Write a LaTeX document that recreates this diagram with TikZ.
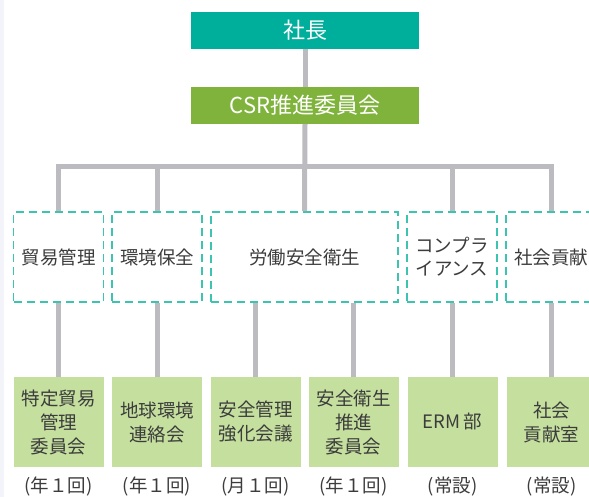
\documentclass[tikz,border=0pt]{standalone}
\usepackage{fontspec}
\setmainfont{Noto Sans CJK JP}
\definecolor{topteal}{HTML}{00AF9B}
\definecolor{csrgreen}{HTML}{7FB33B}
\definecolor{lightgreen}{HTML}{C5DF9F}
\definecolor{dashteal}{HTML}{3CC4B0}
\definecolor{linegray}{HTML}{BCBCC0}
\definecolor{txt}{HTML}{3C3C3C}
\definecolor{edgestrip}{HTML}{F2F4F9}
\begin{document}
\begin{tikzpicture}[x=1pt,y=-1pt,
  topbox/.style={fill=#1,draw=none,minimum width=228pt,minimum height=37pt,inner sep=0pt,text=white,font=\fontsize{22}{26}\selectfont},
  deptbox/.style={draw=dashteal,line width=1.6pt,dash pattern=on 8pt off 5pt,fill=white,minimum height=90pt,inner sep=0pt,align=center,text=txt,font=\fontsize{18.5}{23}\selectfont},
  unitbox/.style={fill=lightgreen,draw=none,minimum width=90pt,minimum height=90pt,inner sep=0pt,align=center,text=txt,font=\fontsize{18.5}{24}\selectfont},
  freq/.style={text=txt,inner sep=0pt,font=\fontsize{18.5}{20}\selectfont},
  conn/.style={draw=linegray,line width=5pt,line join=miter}]
\useasboundingbox (0,0) rectangle (589,497);
\fill[edgestrip] (0,0) rectangle (4,497);
% top
\node[topbox=topteal] (ceo) at (305,30.5) {社長};
\node[topbox=csrgreen] (csr) at (305,105.5) {CSR推進委員会};
% departments
\node[deptbox,minimum width=90pt] (d1) at (58.5,257) {貿易管理};
\node[deptbox,minimum width=90pt] (d2) at (157,257) {環境保全};
\node[deptbox,minimum width=187pt] (d3) at (304.5,257) {労働安全衛生};
\node[deptbox,minimum width=90pt] (d4) at (452,257) {コンプラ\\イアンス};
\node[deptbox,minimum width=90pt] (d5) at (551,257) {社会貢献};
% units
\node[unitbox] (g1) at (58.5,422) {特定貿易\\管理\\委員会};
\node[unitbox] (g2) at (157,422) {地球環境\\連絡会};
\node[unitbox] (g3) at (255.5,422) {安全管理\\強化会議};
\node[unitbox] (g4) at (353.5,422) {安全衛生\\推進\\委員会};
\node[unitbox] (g5) at (452.5,422) {ERM\,部};
\node[unitbox] (g6) at (551.5,422) {社会\\貢献室};
% frequencies
\node[freq] (p1) at (58.5,487) {(年１回)};
\node[freq] (p2) at (157,487) {(年１回)};
\node[freq] (p3) at (255.5,487) {(月１回)};
\node[freq] (p4) at (353.5,487) {(年１回)};
\node[freq] (p5) at (452.5,487) {(常設)};
\node[freq] (p6) at (551.5,487) {(常設)};
% connectors
\coordinate (bus) at (305,166.5);
\draw[conn] (ceo.south) -- (csr.north);
\draw[conn] (csr.south) -- (d3.north);
\draw[conn] (d1.north) |- (bus) -| (d5.north);
\draw[conn] (d2.north) -- (d2.north |- bus);
\draw[conn] (d4.north) -- (d4.north |- bus);
\draw[conn] (d1.south) -- (g1.north);
\draw[conn] (d2.south) -- (g2.north);
\draw[conn] (g3.north |- d3.south) -- (g3.north);
\draw[conn] (g4.north |- d3.south) -- (g4.north);
\draw[conn] (d4.south) -- (g5.north -| d4.south);
\draw[conn] (d5.south) -- (g6.north -| d5.south);
\end{tikzpicture}
\end{document}
